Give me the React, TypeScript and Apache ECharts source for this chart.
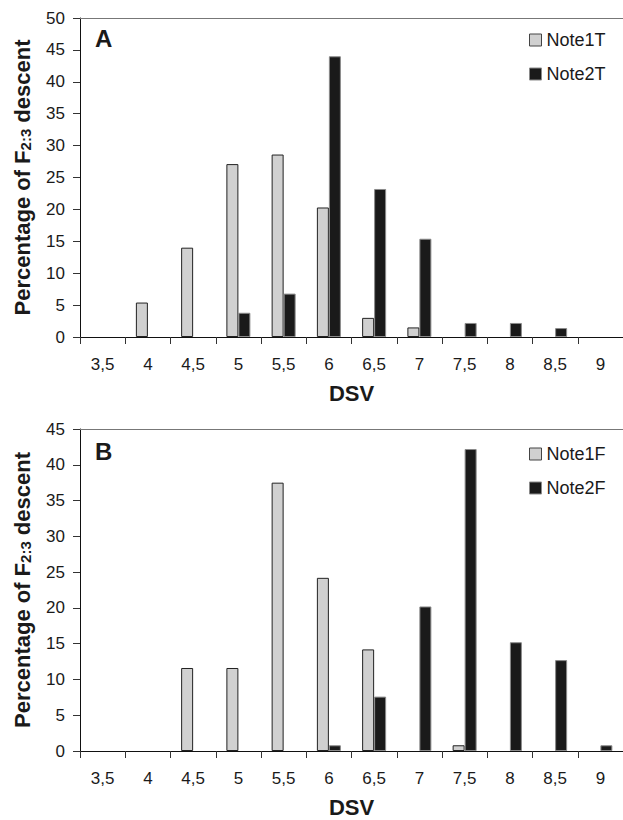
import React, { useEffect, useRef } from "react";
import * as echarts from "echarts";

const categories = ["3,5", "4", "4,5", "5", "5,5", "6", "6,5", "7", "7,5", "8", "8,5", "9"].slice(0, 12);
const dsv = ["3,5", "4", "4,5", "5", "5,5", "6", "6,5", "7", "7,5", "8", "8,5", "9"];
const note1T = [0, 5.4, 14.0, 27.1, 28.6, 20.3, 3.0, 1.5, 0, 0, 0, 0];
const note2T = [0, 0, 0, 3.8, 6.8, 44.0, 23.2, 15.4, 2.2, 2.2, 1.4, 0];
const note1F = [0, 0, 11.6, 11.6, 37.5, 24.2, 14.2, 0, 0.8, 0, 0, 0];
const note2F = [0, 0, 0, 0, 0, 0.8, 7.6, 20.2, 42.2, 15.2, 12.7, 0.8];
const yTicksA = { max: 50, interval: 5 };
const yTicksB = { max: 45, interval: 5 };

const FONT = "Liberation Sans";
const TXT = "#1a1a1a";
const GRAY_FILL = "#d0d0d0";
const GRAY_BORDER = "#222222";
const BLACK_FILL = "#1a1a1a";
const BLACK_BORDER = "#8a8a8a";

const nz = (arr: number[]) => arr.map((v) => (v === 0 ? "-" : v));

export default function App() {
  const ref = useRef<HTMLDivElement>(null);
  useEffect(() => {
    if (!ref.current) return;
    const chart = echarts.init(ref.current, undefined, { renderer: "svg" });
    void categories;
    const xBottom = (gridIndex: number) => ({
      type: "category",
      gridIndex,
      data: dsv,
      position: "bottom",
      name: "DSV",
      nameLocation: "middle",
      nameGap: 45,
      nameTextStyle: { fontFamily: FONT, fontSize: 22, fontWeight: "bold", color: TXT },
      axisLine: { lineStyle: { color: "#111", width: 1 } },
      axisTick: { show: true, length: 7, interval: 0, lineStyle: { color: "#333" } },
      axisLabel: { fontFamily: FONT, fontSize: 17, color: TXT, margin: 19, interval: 0 },
      splitLine: { show: false },
    });
    const xTop = (gridIndex: number) => ({
      type: "category",
      gridIndex,
      data: dsv,
      position: "top",
      axisLine: { show: true, lineStyle: { color: "#777", width: 1 } },
      axisTick: { show: false },
      axisLabel: { show: false },
      splitLine: { show: false },
    });
    const yAxis = (gridIndex: number, t: { max: number; interval: number }) => ({
      type: "value",
      gridIndex,
      min: 0,
      max: t.max,
      interval: t.interval,
      name: "{b|Percentage of F}{s|2:3}{b| descent}",
      nameLocation: "middle",
      nameGap: 47,
      nameTextStyle: {
        rich: {
          b: { fontFamily: FONT, fontSize: 22, fontWeight: "bold", color: TXT, verticalAlign: "bottom" },
          s: { fontFamily: FONT, fontSize: 15, fontWeight: "bold", color: TXT, verticalAlign: "bottom" },
        },
      },
      axisLine: { show: true, lineStyle: { color: "#111", width: 1 } },
      axisTick: { show: true, length: 7, lineStyle: { color: "#333" } },
      axisLabel: { fontFamily: FONT, fontSize: 17, color: TXT, margin: 15 },
      splitLine: { show: false },
    });
    const bar = (name: string, data: number[], x: number, y: number, fill: string, border: string) => ({
      type: "bar",
      name,
      xAxisIndex: x,
      yAxisIndex: y,
      data: nz(data),
      barWidth: 12,
      barGap: "0%",
      itemStyle: { color: fill, borderColor: border, borderWidth: 1 },
    });
    const legend = (names: string[], top: number) => ({
      orient: "vertical",
      left: 529,
      top,
      icon: "rect",
      itemWidth: 12,
      itemHeight: 12,
      itemGap: 16,
      padding: 0,
      textStyle: { fontFamily: FONT, fontSize: 18, color: TXT },
      data: [
        { name: names[0], itemStyle: { color: GRAY_FILL, borderColor: "#444", borderWidth: 1 } },
        { name: names[1], itemStyle: { color: BLACK_FILL, borderColor: BLACK_BORDER, borderWidth: 1 } },
      ],
    });
    chart.setOption({
      animation: false,
      backgroundColor: "#ffffff",
      title: [
        { text: "A", left: 95, top: 26, padding: 0, textStyle: { fontFamily: FONT, fontSize: 24, fontWeight: "bold", color: TXT } },
        { text: "B", left: 95, top: 439, padding: 0, textStyle: { fontFamily: FONT, fontSize: 24, fontWeight: "bold", color: TXT } },
      ],
      legend: [legend(["Note1T", "Note2T"], 31), legend(["Note1F", "Note2F"], 445)],
      grid: [
        { left: 80, top: 18, width: 548, height: 319, containLabel: false },
        { left: 80, top: 429, width: 548, height: 322, containLabel: false },
      ],
      xAxis: [xBottom(0), xTop(0), xBottom(1), xTop(1)],
      yAxis: [yAxis(0, yTicksA), yAxis(1, yTicksB)],
      series: [
        bar("Note1T", note1T, 0, 0, GRAY_FILL, GRAY_BORDER),
        bar("Note2T", note2T, 0, 0, BLACK_FILL, BLACK_BORDER),
        bar("Note1F", note1F, 2, 1, GRAY_FILL, GRAY_BORDER),
        bar("Note2F", note2F, 2, 1, BLACK_FILL, BLACK_BORDER),
      ],
    });
    return () => chart.dispose();
  }, []);
  return <div ref={ref} style={{ position: "fixed", left: 0, top: 0, width: 623, height: 820 }} />;
}
